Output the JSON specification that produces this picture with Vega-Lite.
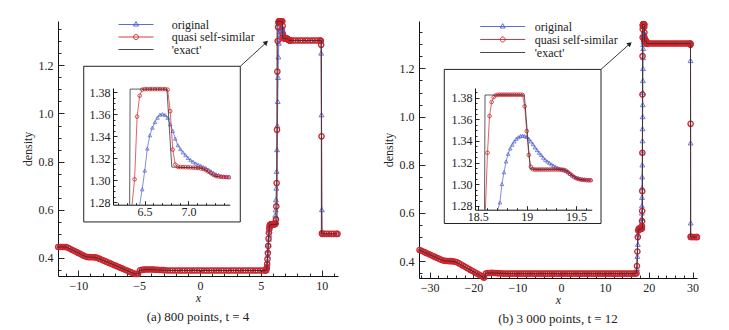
{
"$schema": "https://vega.github.io/schema/vega-lite/v6.json",
"background": "white",
"padding": {"left": 21, "top": 15, "right": 0, "bottom": 0},
"spacing": 39,
"resolve": {"scale": {"color": "independent"}, "legend": {"color": "independent"}},
"config": {
 "view": {"stroke": null},
 "font": "Liberation Serif, DejaVu Serif, serif",
 "axis": {"grid": false, "domainColor": "#111", "domainWidth": 1, "tickColor": "#111", "tickWidth": 0.9, "labelFont": "Liberation Serif, DejaVu Serif, serif", "labelFontSize": 12, "labelColor": "#222", "titleFont": "Liberation Serif, DejaVu Serif, serif", "titleFontSize": 12, "titleFontWeight": "normal", "titleColor": "#222", "labelOverlap": false, "labelFlush": false},
 "title": {"font": "Liberation Serif, DejaVu Serif, serif", "fontSize": 13, "fontWeight": "normal", "color": "#222"},
 "legend": {"labelFont": "Liberation Serif, DejaVu Serif, serif", "labelFontSize": 12, "labelColor": "#222"}
},
"datasets": {
"ae": [{"x":-11.65,"y":0.4457},{"x":-10.99,"y":0.4457},{"x":-9.34,"y":0.404},{"x":-8.52,"y":0.402},{"x":-5.37,"y":0.334},{"x":-5.02,"y":0.334},{"x":-4.98,"y":0.349},{"x":-4.4,"y":0.3522},{"x":-3.0,"y":0.3494},{"x":-2.6,"y":0.348},{"x":5.45,"y":0.348},{"x":5.5,"y":0.36},{"x":5.6,"y":0.45},{"x":5.68,"y":0.52},{"x":5.75,"y":0.538},{"x":6.33,"y":0.54},{"x":6.335,"y":1.383},{"x":6.755,"y":1.383},{"x":6.81,"y":1.3122},{"x":6.85,"y":1.312},{"x":7.1,"y":1.3115},{"x":7.15,"y":1.311},{"x":7.2,"y":1.309},{"x":7.25,"y":1.306},{"x":7.3,"y":1.3037},{"x":7.35,"y":1.3033},{"x":9.97,"y":1.303},{"x":9.975,"y":0.5},{"x":11.3,"y":0.5}],
"ao": [{"x":-11.65,"y":0.4457},{"x":-11.0,"y":0.4457},{"x":-10.5,"y":0.433},{"x":-10.0,"y":0.4207},{"x":-9.5,"y":0.4082},{"x":-9.2,"y":0.4035},{"x":-8.6,"y":0.4025},{"x":-8.2,"y":0.3953},{"x":-7.6,"y":0.3823},{"x":-7.0,"y":0.3693},{"x":-6.4,"y":0.3563},{"x":-5.8,"y":0.3433},{"x":-5.4,"y":0.3353},{"x":-5.1,"y":0.336},{"x":-4.9,"y":0.349},{"x":-4.4,"y":0.352},{"x":-3.8,"y":0.3517},{"x":-3.2,"y":0.3498},{"x":-2.6,"y":0.3485},{"x":-1.6,"y":0.348},{"x":-0.6,"y":0.348},{"x":0.4,"y":0.348},{"x":1.4,"y":0.348},{"x":2.4,"y":0.348},{"x":3.4,"y":0.348},{"x":4.4,"y":0.348},
{"x":5.400,"y":0.348},{"x":5.429,"y":0.350},{"x":5.458,"y":0.354},{"x":5.487,"y":0.362},{"x":5.516,"y":0.374},{"x":5.545,"y":0.390},{"x":5.574,"y":0.410},{"x":5.603,"y":0.432},{"x":5.632,"y":0.455},{"x":5.661,"y":0.478},{"x":5.690,"y":0.498},{"x":5.719,"y":0.513},{"x":5.748,"y":0.524},{"x":5.777,"y":0.531},{"x":5.806,"y":0.535},{"x":5.835,"y":0.537},{"x":5.864,"y":0.538},{"x":5.893,"y":0.539},{"x":5.922,"y":0.539},{"x":5.951,"y":0.540},{"x":5.980,"y":0.540},{"x":6.009,"y":0.540},{"x":6.038,"y":0.540},{"x":6.067,"y":0.541},{"x":6.096,"y":0.542},{"x":6.125,"y":0.548},{"x":6.154,"y":0.560},{"x":6.183,"y":0.578},{"x":6.212,"y":0.600},{"x":6.241,"y":0.642},{"x":6.270,"y":0.690},{"x":6.299,"y":0.760},{"x":6.328,"y":0.850},{"x":6.357,"y":0.950},{"x":6.386,"y":1.050},{"x":6.415,"y":1.150},{"x":6.444,"y":1.235},{"x":6.473,"y":1.292},{"x":6.502,"y":1.309},{"x":6.531,"y":1.329},{"x":6.560,"y":1.341},{"x":6.589,"y":1.348},{"x":6.618,"y":1.353},{"x":6.647,"y":1.357},{"x":6.676,"y":1.3598},{"x":6.705,"y":1.3603},{"x":6.734,"y":1.3595},{"x":6.763,"y":1.357},{"x":6.792,"y":1.351},{"x":6.821,"y":1.345},{"x":6.850,"y":1.338},{"x":6.879,"y":1.332},{"x":6.908,"y":1.3285},{"x":6.937,"y":1.3255},{"x":6.966,"y":1.323},{"x":6.995,"y":1.3205},{"x":7.024,"y":1.3185},{"x":7.053,"y":1.317},{"x":7.082,"y":1.3155},{"x":7.111,"y":1.3143},{"x":7.140,"y":1.3133},{"x":7.169,"y":1.3123},{"x":7.198,"y":1.3113},{"x":7.227,"y":1.310},{"x":7.256,"y":1.3085},{"x":7.285,"y":1.307},{"x":7.314,"y":1.3058},{"x":7.343,"y":1.305},{"x":7.372,"y":1.3042},{"x":7.401,"y":1.3037},{"x":7.430,"y":1.3033},{"x":7.459,"y":1.3031},
{"x":8.0,"y":1.303},{"x":8.6,"y":1.303},{"x":9.2,"y":1.303},{"x":9.8,"y":1.303},{"x":9.90,"y":1.303},{"x":9.929,"y":1.300},{"x":9.958,"y":1.251},{"x":9.987,"y":0.995},{"x":10.016,"y":0.601},{"x":10.045,"y":0.505},{"x":10.074,"y":0.5},{"x":10.6,"y":0.5},{"x":11.3,"y":0.5}],
"aq": [{"x":-11.65,"y":0.4457},{"x":-11.49,"y":0.4457},{"x":-11.33,"y":0.4457},{"x":-11.17,"y":0.4456},{"x":-11.01,"y":0.4452},{"x":-10.85,"y":0.4422},{"x":-10.69,"y":0.4382},{"x":-10.53,"y":0.4341},{"x":-10.37,"y":0.4301},{"x":-10.21,"y":0.4260},{"x":-10.05,"y":0.4220},{"x":-9.89,"y":0.4179},{"x":-9.73,"y":0.4139},{"x":-9.57,"y":0.4098},{"x":-9.41,"y":0.4058},{"x":-9.25,"y":0.4037},{"x":-9.09,"y":0.4033},{"x":-8.93,"y":0.4030},{"x":-8.77,"y":0.4027},{"x":-8.61,"y":0.4022},{"x":-8.45,"y":0.4005},{"x":-8.29,"y":0.3970},{"x":-8.13,"y":0.3936},{"x":-7.97,"y":0.3901},{"x":-7.81,"y":0.3867},{"x":-7.65,"y":0.3832},{"x":-7.49,"y":0.3798},{"x":-7.33,"y":0.3763},{"x":-7.17,"y":0.3728},{"x":-7.01,"y":0.3694},{"x":-6.85,"y":0.3659},{"x":-6.69,"y":0.3625},{"x":-6.53,"y":0.3590},{"x":-6.37,"y":0.3556},{"x":-6.21,"y":0.3521},{"x":-6.05,"y":0.3487},{"x":-5.89,"y":0.3452},{"x":-5.73,"y":0.3418},{"x":-5.57,"y":0.3383},{"x":-5.41,"y":0.3349},{"x":-5.25,"y":0.3337},{"x":-5.09,"y":0.3340},{"x":-4.93,"y":0.3490},{"x":-4.77,"y":0.3505},{"x":-4.61,"y":0.3515},{"x":-4.45,"y":0.3520},{"x":-4.29,"y":0.3523},{"x":-4.13,"y":0.3523},{"x":-3.97,"y":0.3520},{"x":-3.81,"y":0.3517},{"x":-3.65,"y":0.3512},{"x":-3.49,"y":0.3507},{"x":-3.33,"y":0.3502},{"x":-3.17,"y":0.3498},{"x":-3.01,"y":0.3494},{"x":-2.85,"y":0.3490},
{"x":-2.65,"y":0.348},{"x":-2.45,"y":0.348},{"x":-2.25,"y":0.348},{"x":-2.05,"y":0.348},{"x":-1.85,"y":0.348},{"x":-1.65,"y":0.348},{"x":-1.45,"y":0.348},{"x":-1.25,"y":0.348},{"x":-1.05,"y":0.348},{"x":-0.85,"y":0.348},{"x":-0.65,"y":0.348},{"x":-0.45,"y":0.348},{"x":-0.25,"y":0.348},{"x":-0.05,"y":0.348},{"x":0.15,"y":0.348},{"x":0.35,"y":0.348},{"x":0.55,"y":0.348},{"x":0.75,"y":0.348},{"x":0.95,"y":0.348},{"x":1.15,"y":0.348},{"x":1.35,"y":0.348},{"x":1.55,"y":0.348},{"x":1.75,"y":0.348},{"x":1.95,"y":0.348},{"x":2.15,"y":0.348},{"x":2.35,"y":0.348},{"x":2.55,"y":0.348},{"x":2.75,"y":0.348},{"x":2.95,"y":0.348},{"x":3.15,"y":0.348},{"x":3.35,"y":0.348},{"x":3.55,"y":0.348},{"x":3.75,"y":0.348},{"x":3.95,"y":0.348},{"x":4.15,"y":0.348},{"x":4.35,"y":0.348},{"x":4.55,"y":0.348},{"x":4.75,"y":0.348},{"x":4.95,"y":0.348},{"x":5.15,"y":0.348},{"x":5.35,"y":0.348},
{"x":5.400,"y":0.348},{"x":5.429,"y":0.349},{"x":5.458,"y":0.352},{"x":5.487,"y":0.360},{"x":5.516,"y":0.375},{"x":5.545,"y":0.395},{"x":5.574,"y":0.420},{"x":5.603,"y":0.450},{"x":5.632,"y":0.480},{"x":5.661,"y":0.505},{"x":5.690,"y":0.522},{"x":5.719,"y":0.532},{"x":5.748,"y":0.537},{"x":5.777,"y":0.539},{"x":5.806,"y":0.540},{"x":5.835,"y":0.540},{"x":5.864,"y":0.540},{"x":5.893,"y":0.540},{"x":5.922,"y":0.540},{"x":5.951,"y":0.540},{"x":5.980,"y":0.540},{"x":6.009,"y":0.540},{"x":6.038,"y":0.540},{"x":6.067,"y":0.540},{"x":6.096,"y":0.540},{"x":6.125,"y":0.540},{"x":6.154,"y":0.540},{"x":6.183,"y":0.541},{"x":6.212,"y":0.543},{"x":6.241,"y":0.560},{"x":6.270,"y":0.614},{"x":6.299,"y":0.711},{"x":6.328,"y":0.932},{"x":6.357,"y":1.174},{"x":6.386,"y":1.301},{"x":6.415,"y":1.358},{"x":6.444,"y":1.377},{"x":6.473,"y":1.3825},{"x":6.502,"y":1.383},{"x":6.531,"y":1.383},{"x":6.560,"y":1.383},{"x":6.589,"y":1.383},{"x":6.618,"y":1.383},{"x":6.647,"y":1.383},{"x":6.676,"y":1.383},{"x":6.705,"y":1.383},{"x":6.734,"y":1.383},{"x":6.763,"y":1.3825},{"x":6.792,"y":1.363},{"x":6.821,"y":1.328},{"x":6.850,"y":1.3145},{"x":6.879,"y":1.3125},{"x":6.908,"y":1.3122},{"x":6.937,"y":1.3121},{"x":6.966,"y":1.312},{"x":6.995,"y":1.312},{"x":7.024,"y":1.3118},{"x":7.053,"y":1.3117},{"x":7.082,"y":1.3115},{"x":7.111,"y":1.3113},{"x":7.140,"y":1.311},{"x":7.169,"y":1.3105},{"x":7.198,"y":1.3095},{"x":7.227,"y":1.308},{"x":7.256,"y":1.3065},{"x":7.285,"y":1.305},{"x":7.314,"y":1.304},{"x":7.343,"y":1.3035},{"x":7.372,"y":1.3033},{"x":7.401,"y":1.3032},{"x":7.430,"y":1.3031},{"x":7.459,"y":1.303},
{"x":7.65,"y":1.303},{"x":7.85,"y":1.303},{"x":8.05,"y":1.303},{"x":8.25,"y":1.303},{"x":8.45,"y":1.303},{"x":8.65,"y":1.303},{"x":8.85,"y":1.303},{"x":9.05,"y":1.303},{"x":9.25,"y":1.303},{"x":9.45,"y":1.303},{"x":9.65,"y":1.303},{"x":9.85,"y":1.303},{"x":9.90,"y":1.303},{"x":9.929,"y":1.302},{"x":9.958,"y":1.285},{"x":9.987,"y":0.905},{"x":10.016,"y":0.502},{"x":10.045,"y":0.5},{"x":10.2,"y":0.5},{"x":10.4,"y":0.5},{"x":10.6,"y":0.5},{"x":10.8,"y":0.5},{"x":11.0,"y":0.5},{"x":11.2,"y":0.5},{"x":11.3,"y":0.5}],
"be": [{"x":-32.42,"y":0.4465},{"x":-26.9,"y":0.4025},{"x":-26.0,"y":0.4005},{"x":-24.2,"y":0.398},{"x":-17.6,"y":0.3315},{"x":-17.3,"y":0.3315},{"x":-17.25,"y":0.349},{"x":-15.8,"y":0.3512},{"x":-13.5,"y":0.349},{"x":-12.0,"y":0.348},{"x":17.15,"y":0.348},{"x":17.3,"y":0.38},{"x":17.5,"y":0.50},{"x":17.65,"y":0.533},{"x":18.57,"y":0.535},{"x":18.575,"y":1.3825},{"x":18.975,"y":1.3825},{"x":19.035,"y":1.3138},{"x":19.38,"y":1.3138},{"x":19.42,"y":1.3115},{"x":19.47,"y":1.3075},{"x":19.53,"y":1.3045},{"x":19.6,"y":1.3035},{"x":29.52,"y":1.3035},{"x":29.53,"y":0.5},{"x":31.0,"y":0.5}],
"bo": [{"x":-32.3,"y":0.4462},{"x":-30.5,"y":0.4318},{"x":-28.7,"y":0.4168},{"x":-26.9,"y":0.4025},{"x":-25.1,"y":0.4},{"x":-24.2,"y":0.3977},{"x":-22.4,"y":0.3815},{"x":-20.6,"y":0.3629},{"x":-18.8,"y":0.3444},{"x":-17.6,"y":0.332},{"x":-17.15,"y":0.349},{"x":-15.5,"y":0.351},{"x":-13.5,"y":0.349},{"x":-10,"y":0.348},{"x":-5,"y":0.348},{"x":0,"y":0.348},{"x":5,"y":0.348},{"x":10,"y":0.348},{"x":15,"y":0.348},{"x":17.0,"y":0.348},{"x":17.2,"y":0.351},{"x":17.3,"y":0.37},{"x":17.4,"y":0.42},{"x":17.5,"y":0.47},{"x":17.6,"y":0.51},{"x":17.7,"y":0.528},{"x":17.8,"y":0.533},{"x":17.9,"y":0.535},{"x":18.0,"y":0.535},{"x":18.1,"y":0.535},{"x":18.2,"y":0.535},{"x":18.3,"y":0.537},{"x":18.327,"y":0.540},{"x":18.348,"y":0.548},{"x":18.369,"y":0.560},{"x":18.390,"y":0.578},{"x":18.411,"y":0.600},{"x":18.432,"y":0.630},{"x":18.453,"y":0.665},{"x":18.474,"y":0.705},{"x":18.495,"y":0.750},{"x":18.516,"y":0.800},{"x":18.537,"y":0.850},{"x":18.558,"y":0.900},{"x":18.579,"y":0.950},{"x":18.600,"y":1.000},{"x":18.621,"y":1.050},{"x":18.642,"y":1.100},{"x":18.663,"y":1.150},{"x":18.684,"y":1.200},{"x":18.705,"y":1.245},{"x":18.726,"y":1.283},{"x":18.747,"y":1.300},{"x":18.768,"y":1.311},{"x":18.789,"y":1.321},{"x":18.810,"y":1.328},{"x":18.831,"y":1.333},{"x":18.852,"y":1.3365},{"x":18.873,"y":1.3395},{"x":18.894,"y":1.342},{"x":18.915,"y":1.3435},{"x":18.936,"y":1.3445},{"x":18.957,"y":1.3448},{"x":18.978,"y":1.3445},{"x":18.999,"y":1.3437},{"x":19.020,"y":1.342},{"x":19.041,"y":1.3395},{"x":19.062,"y":1.337},{"x":19.083,"y":1.334},{"x":19.104,"y":1.3315},{"x":19.125,"y":1.329},{"x":19.146,"y":1.327},{"x":19.167,"y":1.3245},{"x":19.188,"y":1.3225},{"x":19.209,"y":1.321},{"x":19.230,"y":1.3197},{"x":19.251,"y":1.3183},{"x":19.272,"y":1.317},{"x":19.293,"y":1.316},{"x":19.314,"y":1.315},{"x":19.335,"y":1.3143},{"x":19.356,"y":1.3135},{"x":19.377,"y":1.3128},{"x":19.398,"y":1.312},{"x":19.419,"y":1.311},{"x":19.440,"y":1.3095},{"x":19.461,"y":1.3082},{"x":19.482,"y":1.307},{"x":19.503,"y":1.306},{"x":19.524,"y":1.3055},{"x":19.545,"y":1.305},{"x":19.566,"y":1.3047},{"x":19.587,"y":1.3045},{"x":19.608,"y":1.3043},{"x":19.629,"y":1.3042},{"x":19.650,"y":1.3041},{"x":21.0,"y":1.3035},{"x":23.5,"y":1.3035},{"x":26.0,"y":1.3035},{"x":28.5,"y":1.3035},{"x":29.479,"y":1.3035},{"x":29.500,"y":1.302},{"x":29.521,"y":1.233},{"x":29.542,"y":0.891},{"x":29.563,"y":0.559},{"x":29.584,"y":0.503},{"x":29.605,"y":0.5},{"x":30.3,"y":0.5},{"x":31.0,"y":0.5}],
"bq": [{"x":-32.3,"y":0.4462},{"x":-31.85,"y":0.4430},{"x":-31.4,"y":0.4393},{"x":-30.95,"y":0.4355},{"x":-30.5,"y":0.4318},{"x":-30.05,"y":0.4280},{"x":-29.6,"y":0.4243},{"x":-29.15,"y":0.4206},{"x":-28.7,"y":0.4168},{"x":-28.25,"y":0.4131},{"x":-27.8,"y":0.4093},{"x":-27.35,"y":0.4056},{"x":-26.9,"y":0.4025},{"x":-26.45,"y":0.4012},{"x":-26.0,"y":0.4005},{"x":-25.55,"y":0.4002},{"x":-25.1,"y":0.4000},{"x":-24.65,"y":0.3993},{"x":-24.2,"y":0.3977},{"x":-23.75,"y":0.3954},{"x":-23.3,"y":0.3907},{"x":-22.85,"y":0.3861},{"x":-22.4,"y":0.3815},{"x":-21.95,"y":0.3768},{"x":-21.5,"y":0.3722},{"x":-21.05,"y":0.3676},{"x":-20.6,"y":0.3629},{"x":-20.15,"y":0.3583},{"x":-19.7,"y":0.3536},{"x":-19.25,"y":0.3490},{"x":-18.8,"y":0.3444},{"x":-18.35,"y":0.3398},{"x":-17.9,"y":0.3351},{"x":-17.6,"y":0.3315},{"x":-17.15,"y":0.3490},{"x":-16.7,"y":0.3505},{"x":-16.25,"y":0.3510},{"x":-15.8,"y":0.3512},{"x":-15.35,"y":0.3510},{"x":-14.9,"y":0.3505},{"x":-14.45,"y":0.3500},{"x":-14.0,"y":0.3495},{"x":-13.55,"y":0.3490},
{"x":-13.1,"y":0.348},{"x":-12.6,"y":0.348},{"x":-12.1,"y":0.348},{"x":-11.6,"y":0.348},{"x":-11.1,"y":0.348},{"x":-10.6,"y":0.348},{"x":-10.1,"y":0.348},{"x":-9.6,"y":0.348},{"x":-9.1,"y":0.348},{"x":-8.6,"y":0.348},{"x":-8.1,"y":0.348},{"x":-7.6,"y":0.348},{"x":-7.1,"y":0.348},{"x":-6.6,"y":0.348},{"x":-6.1,"y":0.348},{"x":-5.6,"y":0.348},{"x":-5.1,"y":0.348},{"x":-4.6,"y":0.348},{"x":-4.1,"y":0.348},{"x":-3.6,"y":0.348},{"x":-3.1,"y":0.348},{"x":-2.6,"y":0.348},{"x":-2.1,"y":0.348},{"x":-1.6,"y":0.348},{"x":-1.1,"y":0.348},{"x":-0.6,"y":0.348},{"x":-0.1,"y":0.348},{"x":0.4,"y":0.348},{"x":0.9,"y":0.348},{"x":1.4,"y":0.348},{"x":1.9,"y":0.348},{"x":2.4,"y":0.348},{"x":2.9,"y":0.348},{"x":3.4,"y":0.348},{"x":3.9,"y":0.348},{"x":4.4,"y":0.348},{"x":4.9,"y":0.348},{"x":5.4,"y":0.348},{"x":5.9,"y":0.348},{"x":6.4,"y":0.348},{"x":6.9,"y":0.348},{"x":7.4,"y":0.348},{"x":7.9,"y":0.348},{"x":8.4,"y":0.348},{"x":8.9,"y":0.348},{"x":9.4,"y":0.348},{"x":9.9,"y":0.348},{"x":10.4,"y":0.348},{"x":10.9,"y":0.348},{"x":11.4,"y":0.348},{"x":11.9,"y":0.348},{"x":12.4,"y":0.348},{"x":12.9,"y":0.348},{"x":13.4,"y":0.348},{"x":13.9,"y":0.348},{"x":14.4,"y":0.348},{"x":14.9,"y":0.348},{"x":15.4,"y":0.348},{"x":15.9,"y":0.348},{"x":16.4,"y":0.348},{"x":16.9,"y":0.348},
{"x":17.2,"y":0.350},{"x":17.3,"y":0.38},{"x":17.4,"y":0.44},{"x":17.5,"y":0.50},{"x":17.6,"y":0.527},{"x":17.7,"y":0.534},{"x":17.8,"y":0.535},{"x":17.9,"y":0.535},{"x":18.0,"y":0.535},{"x":18.1,"y":0.535},{"x":18.2,"y":0.535},{"x":18.3,"y":0.535},{"x":18.4,"y":0.535},{"x":18.432,"y":0.537},{"x":18.453,"y":0.545},{"x":18.474,"y":0.566},{"x":18.495,"y":0.608},{"x":18.516,"y":0.691},{"x":18.537,"y":0.850},{"x":18.558,"y":1.092},{"x":18.579,"y":1.251},{"x":18.600,"y":1.329},{"x":18.621,"y":1.363},{"x":18.642,"y":1.376},{"x":18.663,"y":1.3805},{"x":18.684,"y":1.3822},{"x":18.705,"y":1.3828},{"x":18.726,"y":1.3828},{"x":18.747,"y":1.3828},{"x":18.768,"y":1.3828},{"x":18.789,"y":1.3828},{"x":18.810,"y":1.3828},{"x":18.831,"y":1.3828},{"x":18.852,"y":1.3828},{"x":18.873,"y":1.3828},{"x":18.894,"y":1.3828},{"x":18.915,"y":1.3828},{"x":18.936,"y":1.3828},{"x":18.957,"y":1.3826},{"x":18.978,"y":1.372},{"x":18.999,"y":1.349},{"x":19.020,"y":1.327},{"x":19.041,"y":1.316},{"x":19.062,"y":1.3138},{"x":19.083,"y":1.3135},{"x":19.104,"y":1.3135},{"x":19.125,"y":1.3135},{"x":19.146,"y":1.3135},{"x":19.167,"y":1.3135},{"x":19.188,"y":1.3135},{"x":19.209,"y":1.3135},{"x":19.230,"y":1.3135},{"x":19.251,"y":1.3135},{"x":19.272,"y":1.3135},{"x":19.293,"y":1.3135},{"x":19.314,"y":1.3135},{"x":19.335,"y":1.3135},{"x":19.356,"y":1.3134},{"x":19.377,"y":1.3132},{"x":19.398,"y":1.3125},{"x":19.419,"y":1.311},{"x":19.440,"y":1.3095},{"x":19.461,"y":1.308},{"x":19.482,"y":1.3065},{"x":19.503,"y":1.3055},{"x":19.524,"y":1.3048},{"x":19.545,"y":1.3043},{"x":19.566,"y":1.304},{"x":19.587,"y":1.3038},{"x":19.608,"y":1.3036},{"x":19.629,"y":1.3035},{"x":19.650,"y":1.3035},
{"x":20.1,"y":1.3035},{"x":20.55,"y":1.3035},{"x":21.0,"y":1.3035},{"x":21.45,"y":1.3035},{"x":21.9,"y":1.3035},{"x":22.35,"y":1.3035},{"x":22.8,"y":1.3035},{"x":23.25,"y":1.3035},{"x":23.7,"y":1.3035},{"x":24.15,"y":1.3035},{"x":24.6,"y":1.3035},{"x":25.05,"y":1.3035},{"x":25.5,"y":1.3035},{"x":25.95,"y":1.3035},{"x":26.4,"y":1.3035},{"x":26.85,"y":1.3035},{"x":27.3,"y":1.3035},{"x":27.75,"y":1.3035},{"x":28.2,"y":1.3035},{"x":28.65,"y":1.3035},{"x":29.1,"y":1.3035},{"x":29.479,"y":1.3035},{"x":29.500,"y":1.3035},{"x":29.521,"y":1.298},{"x":29.542,"y":0.970},{"x":29.563,"y":0.502},{"x":29.584,"y":0.5},{"x":30.0,"y":0.5},{"x":30.45,"y":0.5},{"x":30.9,"y":0.5},{"x":31.0,"y":0.5}]
},
"hconcat": [
{
 "width": 280, "height": 255,
 "title": {"text": "(a) 800 points,  t = 4", "orient": "bottom", "offset": 8},
 "resolve": {"scale": {"x": "independent", "y": "independent"}},
 "layer": [
  {
   "encoding": {
    "x": {"field": "x", "type": "quantitative", "scale": {"domain": [-11.67, 11.34], "nice": false, "zero": false},
      "axis": {"title": "x", "titleFontStyle": "italic", "titlePadding": -2, "values": [-11,-10,-9,-8,-7,-6,-5,-4,-3,-2,-1,0,1,2,3,4,5,6,7,8,9,10,11], "format": "d", "labelExpr": "datum.value % 5 == 0 ? datum.label : ''", "tickSize": {"condition": {"test": "datum.value % 5 == 0", "value": -6}, "value": -3}, "labelPadding": 10}},
    "y": {"field": "y", "type": "quantitative", "scale": {"domain": [0.325, 1.384], "nice": false, "zero": false},
      "axis": {"title": "density", "titlePadding": 4, "values": [0.35,0.4,0.45,0.5,0.55,0.6,0.65,0.7,0.75,0.8,0.85,0.9,0.95,1.0,1.05,1.1,1.15,1.2,1.25,1.3,1.35], "format": ".1f", "labelExpr": "indexof([0.4,0.6,0.8,1,1.2], datum.value) >= 0 ? datum.label : ''", "tickSize": {"condition": {"test": "indexof([0.4,0.6,0.8,1,1.2], datum.value) >= 0", "value": -6}, "value": -3}, "labelPadding": 11}}
   },
   "layer": [
    {"data": {"name": "ao"}, "mark": {"type": "line", "strokeWidth": 0.8},
     "encoding": {"color": {"datum": "original", "type": "nominal",
       "scale": {"domain": ["original", "quasi self-similar", "'exact'"], "range": ["#4a5fd0", "#d0232a", "#333333"]},
       "legend": {"title": null, "orient": "none", "legendX": 72, "legendY": -2.5, "direction": "vertical", "padding": 0, "symbolSize": 25, "labelOffset": 29.7, "rowPadding": 0.5,
         "encode": {"symbols": {"update": {
           "shape": {"signal": "datum.value == 'original' ? 'M-7,0H7M0,-1.15L1,0.6L-1,0.6Z' : datum.value == 'quasi self-similar' ? 'M-7,0H7M1,0A1,1 0 1,1 -1,0A1,1 0 1,1 1,0Z' : 'M-7,0H7'"},
           "stroke": {"signal": "datum.value == 'original' ? '#4a5fd0' : datum.value == 'quasi self-similar' ? '#d0232a' : '#333333'"},
           "fill": {"value": "transparent"}, "strokeWidth": {"value": 0.9}, "opacity": {"value": 1}}}}}}}},
    {"data": {"name": "ao"}, "mark": {"type": "point", "shape": "triangle-up", "size": 24, "filled": false, "strokeWidth": 0.8, "opacity": 1}, "encoding": {"color": {"datum": "original", "type": "nominal"}}},
    {"data": {"name": "aq"}, "mark": {"type": "line", "strokeWidth": 0.8}, "encoding": {"color": {"datum": "quasi self-similar", "type": "nominal"}}},
    {"data": {"name": "aq"}, "mark": {"type": "point", "shape": "circle", "size": 28, "filled": false, "strokeWidth": 1.3, "opacity": 1}, "encoding": {"color": {"datum": "quasi self-similar", "type": "nominal"}}},
    {"data": {"name": "ae"}, "mark": {"type": "line", "strokeWidth": 0.9}, "encoding": {"color": {"datum": "'exact'", "type": "nominal"}}},
    {"data": {"values": [{"x": -9.556, "x2": 3.31, "y": 1.196, "y2": 0.5495}]}, "mark": {"type": "rect", "fill": "white", "stroke": "#222", "strokeWidth": 1}, "encoding": {"x2": {"field": "x2"}, "y2": {"field": "y2"}}},
    {"data": {"values": [{"x": 3.31, "y": 1.196, "x2": 5.5, "y2": 1.297}]}, "mark": {"type": "rule", "stroke": "#222", "strokeWidth": 0.9}, "encoding": {"x2": {"field": "x2"}, "y2": {"field": "y2"}}},
    {"data": {"values": [{"x": 5.44, "y": 1.295}]}, "mark": {"type": "point", "shape": "triangle-up", "angle": 47, "size": 30, "filled": true, "color": "#222", "opacity": 1}, "encoding": {}}
   ]
  },
  {
   "encoding": {
    "x": {"field": "x", "type": "quantitative", "scale": {"domain": [6.14, 7.47], "range": [55, 171.7], "nice": false, "zero": false},
      "axis": {"orient": "bottom", "offset": -71.3, "title": null, "zindex": 1, "values": [6.2,6.3,6.4,6.5,6.6,6.7,6.8,6.9,7.0,7.1,7.2,7.3,7.4], "format": ".1f", "labelExpr": "datum.value == 6.5 || datum.value == 7 ? datum.label : ''", "tickSize": {"condition": {"test": "datum.value == 6.5 || datum.value == 7", "value": -4}, "value": -2}, "labelPadding": 6}},
    "y": {"field": "y", "type": "quantitative", "scale": {"domain": [1.278, 1.384], "range": [183.7, 67], "nice": false, "zero": false, "clamp": true},
      "axis": {"orient": "left", "offset": -55, "title": null, "zindex": 1, "values": [1.28,1.285,1.29,1.295,1.3,1.305,1.31,1.315,1.32,1.325,1.33,1.335,1.34,1.345,1.35,1.355,1.36,1.365,1.37,1.375,1.38], "format": ".2f", "labelExpr": "indexof([1.28,1.3,1.32,1.34,1.36,1.38], datum.value) >= 0 ? datum.label : ''", "tickSize": {"condition": {"test": "indexof([1.28,1.3,1.32,1.34,1.36,1.38], datum.value) >= 0", "value": -4}, "value": -2}, "labelPadding": 7}}
   },
   "layer": [
    {"data": {"name": "ao"}, "transform": [{"filter": "datum.x >= 6.44 && datum.x <= 7.47"}], "mark": {"type": "line", "strokeWidth": 0.7}, "encoding": {"color": {"datum": "original", "type": "nominal"}}},
    {"data": {"name": "ao"}, "transform": [{"filter": "datum.x >= 6.44 && datum.x <= 7.47 && datum.y >= 1.278"}], "mark": {"type": "point", "shape": "triangle-up", "size": 13, "filled": false, "strokeWidth": 0.7, "opacity": 1}, "encoding": {"color": {"datum": "original", "type": "nominal"}}},
    {"data": {"name": "aq"}, "transform": [{"filter": "datum.x >= 6.35 && datum.x <= 7.47"}], "mark": {"type": "line", "strokeWidth": 0.7}, "encoding": {"color": {"datum": "quasi self-similar", "type": "nominal"}}},
    {"data": {"name": "aq"}, "transform": [{"filter": "datum.x >= 6.35 && datum.x <= 7.47 && datum.y >= 1.278"}], "mark": {"type": "point", "shape": "circle", "size": 13, "filled": false, "strokeWidth": 0.8, "opacity": 1}, "encoding": {"color": {"datum": "quasi self-similar", "type": "nominal"}}},
    {"data": {"name": "ae"}, "transform": [{"filter": "datum.x >= 6.325 && datum.x <= 7.47"}], "mark": {"type": "line", "strokeWidth": 0.8}, "encoding": {"color": {"datum": "'exact'", "type": "nominal"}}}
   ]
  }
 ]
},
{
 "width": 278, "height": 257,
 "title": {"text": "(b) 3 000 points,  t = 12", "orient": "bottom", "offset": 8},
 "resolve": {"scale": {"x": "independent", "y": "independent"}},
 "layer": [
  {
   "encoding": {
    "x": {"field": "x", "type": "quantitative", "scale": {"domain": [-32.42, 31.0], "nice": false, "zero": false},
      "axis": {"title": "x", "titleFontStyle": "italic", "titlePadding": -2, "values": [-32,-30,-28,-26,-24,-22,-20,-18,-16,-14,-12,-10,-8,-6,-4,-2,0,2,4,6,8,10,12,14,16,18,20,22,24,26,28,30], "format": "d", "labelExpr": "datum.value % 10 == 0 ? datum.label : ''", "tickSize": {"condition": {"test": "datum.value % 10 == 0", "value": -6}, "value": -3}, "labelPadding": 10}},
    "y": {"field": "y", "type": "quantitative", "scale": {"domain": [0.33, 1.397], "nice": false, "zero": false},
      "axis": {"title": "density", "titlePadding": 4, "values": [0.35,0.4,0.45,0.5,0.55,0.6,0.65,0.7,0.75,0.8,0.85,0.9,0.95,1.0,1.05,1.1,1.15,1.2,1.25,1.3,1.35], "format": ".1f", "labelExpr": "indexof([0.4,0.6,0.8,1,1.2], datum.value) >= 0 ? datum.label : ''", "tickSize": {"condition": {"test": "indexof([0.4,0.6,0.8,1,1.2], datum.value) >= 0", "value": -6}, "value": -3}, "labelPadding": 11}}
   },
   "layer": [
    {"data": {"name": "bo"}, "mark": {"type": "line", "strokeWidth": 0.8},
     "encoding": {"color": {"datum": "original", "type": "nominal",
       "scale": {"domain": ["original", "quasi self-similar", "'exact'"], "range": ["#4a5fd0", "#d0232a", "#333333"]},
       "legend": {"title": null, "orient": "none", "legendX": 77.7, "legendY": -0.5, "direction": "vertical", "padding": 0, "symbolSize": 25, "labelOffset": 26, "rowPadding": 1,
         "encode": {"symbols": {"update": {
           "shape": {"signal": "datum.value == 'original' ? 'M-9,0H9M0,-1.15L1,0.6L-1,0.6Z' : datum.value == 'quasi self-similar' ? 'M-9,0H9M1,0A1,1 0 1,1 -1,0A1,1 0 1,1 1,0Z' : 'M-9,0H9'"},
           "stroke": {"signal": "datum.value == 'original' ? '#4a5fd0' : datum.value == 'quasi self-similar' ? '#d0232a' : '#333333'"},
           "fill": {"value": "transparent"}, "strokeWidth": {"value": 0.9}, "opacity": {"value": 1}}}}}}}},
    {"data": {"name": "bo"}, "mark": {"type": "point", "shape": "triangle-up", "size": 24, "filled": false, "strokeWidth": 0.8, "opacity": 1}, "encoding": {"color": {"datum": "original", "type": "nominal"}}},
    {"data": {"name": "bq"}, "mark": {"type": "line", "strokeWidth": 0.8}, "encoding": {"color": {"datum": "quasi self-similar", "type": "nominal"}}},
    {"data": {"name": "bq"}, "mark": {"type": "point", "shape": "circle", "size": 28, "filled": false, "strokeWidth": 1.3, "opacity": 1}, "encoding": {"color": {"datum": "quasi self-similar", "type": "nominal"}}},
    {"data": {"name": "be"}, "mark": {"type": "line", "strokeWidth": 0.9}, "encoding": {"color": {"datum": "'exact'", "type": "nominal"}}},
    {"data": {"values": [{"x": -26.65, "x2": 9.10, "y": 1.196, "y2": 0.5563}]}, "mark": {"type": "rect", "fill": "white", "stroke": "#222", "strokeWidth": 1}, "encoding": {"x2": {"field": "x2"}, "y2": {"field": "y2"}}},
    {"data": {"values": [{"x": 9.10, "y": 1.196, "x2": 15.68, "y2": 1.3027}]}, "mark": {"type": "rule", "stroke": "#222", "strokeWidth": 0.9}, "encoding": {"x2": {"field": "x2"}, "y2": {"field": "y2"}}},
    {"data": {"values": [{"x": 15.68, "y": 1.3027}]}, "mark": {"type": "point", "shape": "triangle-up", "angle": 48, "size": 30, "filled": true, "color": "#222", "opacity": 1}, "encoding": {}}
   ]
  },
  {
   "encoding": {
    "x": {"field": "x", "type": "quantitative", "scale": {"domain": [18.473, 19.66], "range": [56, 172.7], "nice": false, "zero": false},
      "axis": {"orient": "bottom", "offset": -68.3, "title": null, "zindex": 1, "values": [18.5,18.6,18.7,18.8,18.9,19.0,19.1,19.2,19.3,19.4,19.5,19.6], "format": "~g", "labelExpr": "datum.value == 18.5 || datum.value == 19 || datum.value == 19.5 ? datum.label : ''", "tickSize": {"condition": {"test": "datum.value == 18.5 || datum.value == 19 || datum.value == 19.5", "value": -4}, "value": -2}, "labelPadding": 6}},
    "y": {"field": "y", "type": "quantitative", "scale": {"domain": [1.2763, 1.389], "range": [188.7, 67], "nice": false, "zero": false, "clamp": true},
      "axis": {"orient": "left", "offset": -56, "title": null, "zindex": 1, "values": [1.28,1.285,1.29,1.295,1.3,1.305,1.31,1.315,1.32,1.325,1.33,1.335,1.34,1.345,1.35,1.355,1.36,1.365,1.37,1.375,1.38,1.385], "format": ".2f", "labelExpr": "indexof([1.28,1.3,1.32,1.34,1.36,1.38], datum.value) >= 0 ? datum.label : ''", "tickSize": {"condition": {"test": "indexof([1.28,1.3,1.32,1.34,1.36,1.38], datum.value) >= 0", "value": -4}, "value": -2}, "labelPadding": 7}}
   },
   "layer": [
    {"data": {"name": "bo"}, "transform": [{"filter": "datum.x >= 18.70 && datum.x <= 19.66"}], "mark": {"type": "line", "strokeWidth": 0.7}, "encoding": {"color": {"datum": "original", "type": "nominal"}}},
    {"data": {"name": "bo"}, "transform": [{"filter": "datum.x >= 18.70 && datum.x <= 19.66 && datum.y >= 1.2763"}], "mark": {"type": "point", "shape": "triangle-up", "size": 13, "filled": false, "strokeWidth": 0.7, "opacity": 1}, "encoding": {"color": {"datum": "original", "type": "nominal"}}},
    {"data": {"name": "bq"}, "transform": [{"filter": "datum.x >= 18.57 && datum.x <= 19.66"}], "mark": {"type": "line", "strokeWidth": 0.7}, "encoding": {"color": {"datum": "quasi self-similar", "type": "nominal"}}},
    {"data": {"name": "bq"}, "transform": [{"filter": "datum.x >= 18.57 && datum.x <= 19.66 && datum.y >= 1.2763"}], "mark": {"type": "point", "shape": "circle", "size": 13, "filled": false, "strokeWidth": 0.8, "opacity": 1}, "encoding": {"color": {"datum": "quasi self-similar", "type": "nominal"}}},
    {"data": {"name": "be"}, "transform": [{"filter": "datum.x >= 18.565 && datum.x <= 19.66"}], "mark": {"type": "line", "strokeWidth": 0.8}, "encoding": {"color": {"datum": "'exact'", "type": "nominal"}}}
   ]
  }
 ]
}
]
}
